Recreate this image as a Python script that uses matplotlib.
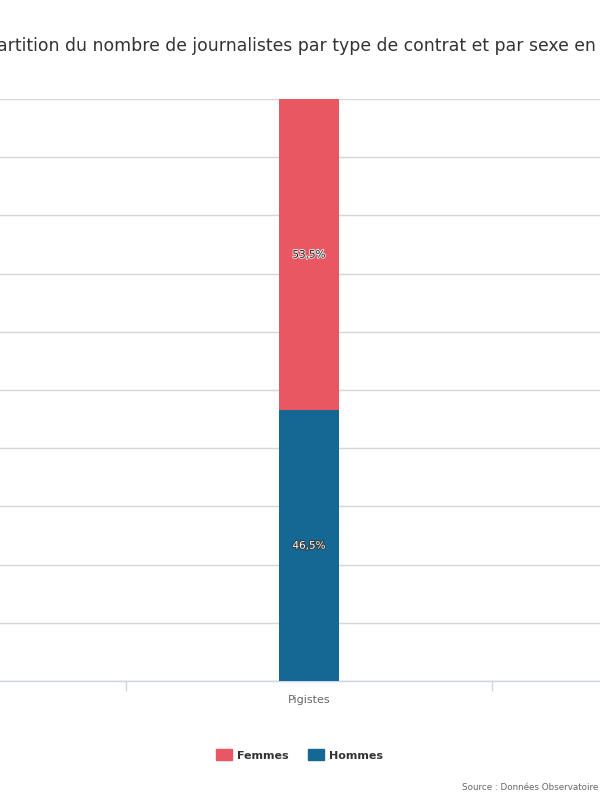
import matplotlib
matplotlib.use("Agg")
import matplotlib.pyplot as plt
import matplotlib.patheffects as pe
from matplotlib.patches import Patch

# Data (percent share per contract type)
categories = ["Pigistes"]
hommes = [46.5]
femmes = [53.5]
colors = {"Femmes": "#E95862", "Hommes": "#156894"}

TITLE = "Répartition du nombre de journalistes par type de contrat et par sexe en"
SOURCE = "Source : Données Observatoire"

plt.rcParams.update({"font.family": "DejaVu Sans", "text.color": "#333333"})

fig = plt.figure(figsize=(6, 8), dpi=100)
fig.patch.set_facecolor("white")

# Plot area spans wider than the visible canvas (cropped chart)
ax = fig.add_axes([0, 119 / 800, 1, 582 / 800])
ax.set_facecolor("white")
x = list(range(len(categories)))
w = 0.164
ax.bar(x, hommes, w, color=colors["Hommes"], zorder=3)
ax.bar(x, femmes, w, bottom=hommes, color=colors["Femmes"], zorder=3)

ax.set_xlim(-0.844, 0.795)
ax.set_ylim(0, 100)
ax.set_yticks(range(0, 101, 10))
ax.set_yticklabels([])
ax.tick_params(axis="y", length=0)
ax.grid(axis="y", color="#D6D6D6", linewidth=1.0, zorder=0)
for sp in ["top", "right", "left"]:
    ax.spines[sp].set_visible(False)
ax.spines["bottom"].set_color("#CCD6EB")
ax.spines["bottom"].set_linewidth(1.0)

ax.set_xticks(x)
ax.set_xticklabels(categories, fontsize=8, color="#666666")
ax.tick_params(axis="x", which="major", length=0, pad=10)
ax.set_xticks([i - 0.5 for i in x] + [x[-1] + 0.5], minor=True)
ax.tick_params(axis="x", which="minor", length=7, color="#CCD6EB", width=1)

# Data labels
for xi, h, f in zip(x, hommes, femmes):
    ax.text(xi, h / 2, f"{h:.1f}%".replace(".", ","), ha="center", va="center",
            fontsize=7.5, color="white", zorder=5,
            path_effects=[pe.withStroke(linewidth=1.2, foreground="#333333")])
    ax.text(xi, h + f / 2, f"{f:.1f}%".replace(".", ","), ha="center", va="center",
            fontsize=7.5, color="#1A1A1A", zorder=5,
            path_effects=[pe.withStroke(linewidth=1.2, foreground="#F5F5F5")])

# Title (cropped on the left)
fig.text(596 / 600, 1 - 46 / 800, TITLE, ha="right", va="center",
         fontsize=12.4, color="#333333")

# Legend
handles = [Patch(color=colors["Femmes"], label="Femmes"),
           Patch(color=colors["Hommes"], label="Hommes")]
lg = fig.legend(handles=handles, loc="center", bbox_to_anchor=(0.499, 1 - 755 / 800),
                ncol=2, frameon=False, handlelength=1.44, handleheight=1.08,
                columnspacing=1.8, handletextpad=0.45,
                prop={"weight": "bold", "size": 8})
for t in lg.get_texts():
    t.set_color("#333333")

fig.text(0.997, 1 - 788 / 800, SOURCE, ha="right", va="center", fontsize=6.3, color="#666666")

fig.savefig("out.png", dpi=100, facecolor="white")
